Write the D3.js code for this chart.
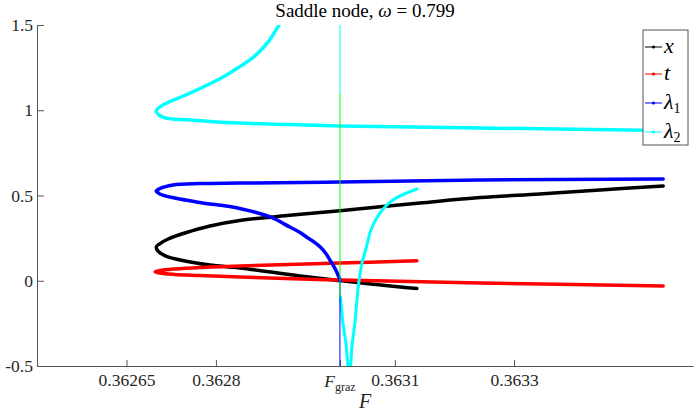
<!DOCTYPE html>
<html>
<head>
<meta charset="utf-8">
<script src="https://cdn.jsdelivr.net/npm/d3@7"></script>
<style>
  html, body { margin: 0; padding: 0; background: #fff; }
  svg { display: block; }
  svg text { font-family: "Liberation Serif", "DejaVu Serif", serif; }
</style>
</head>
<body>
<div id="chart"></div>
<script>
// grazing value of F, used for the tick and the vertical markers
const F_GRAZ = 0.363008;

// [F, value] pairs, ordered along each branch
const xSeries = [
  [0.36355, 0.556], [0.363444, 0.532], [0.363343, 0.509], [0.363243, 0.488],
  [0.363142, 0.456], [0.363008, 0.411], [0.362924, 0.384], [0.362840, 0.353],
  [0.362790, 0.321], [0.362748, 0.280], [0.362720, 0.245], [0.362705, 0.215],
  [0.362700, 0.198], [0.362703, 0.174], [0.362716, 0.145], [0.362748, 0.116],
  [0.362790, 0.092], [0.362840, 0.075], [0.362941, 0.028], [0.363008, 0.001],
  [0.363109, -0.037], [0.363137, -0.045]
];

const tSeries = [
  [0.363137, 0.117], [0.363008, 0.104], [0.362840, 0.087], [0.362773, 0.078],
  [0.362731, 0.069], [0.362706, 0.060], [0.362698, 0.053], [0.362706, 0.045],
  [0.362731, 0.037], [0.362773, 0.031], [0.362840, 0.022], [0.363008, 0.004],
  [0.363243, -0.013], [0.36355, -0.031]
];

const lambda1Series = [
  [0.36355, 0.597], [0.363243, 0.591], [0.363008, 0.579], [0.362840, 0.573],
  [0.362773, 0.570], [0.362728, 0.562], [0.362706, 0.541], [0.362700, 0.526],
  [0.362706, 0.509], [0.362731, 0.485], [0.362773, 0.459], [0.362840, 0.424],
  [0.362891, 0.374], [0.362924, 0.315], [0.362941, 0.283], [0.362953, 0.254],
  [0.362966, 0.224], [0.362975, 0.198], [0.362985, 0.157], [0.362991, 0.122],
  [0.362996, 0.095], [0.363001, 0.063], [0.3630047, 0.034], [0.3630069, 0.016],
  [0.363008, -0.001]
];

const lambda2Series = [
  [0.362910, 1.53], [0.362906, 1.5], [0.362902, 1.477], [0.362889, 1.407],
  [0.362874, 1.348], [0.362857, 1.295], [0.362840, 1.256], [0.362812, 1.195],
  [0.362757, 1.101], [0.362711, 1.031], [0.362700, 0.996], [0.362711, 0.960],
  [0.362757, 0.943], [0.362840, 0.925], [0.362924, 0.916], [0.363008, 0.908],
  [0.363243, 0.896], [0.36355, 0.881]
];

// second lambda2 branch (the dip past F_graz)
const lambda2Dip = [
  [0.363009, -0.094], [0.363013, -0.248], [0.363018, -0.365], [0.363021, -0.483],
  [0.363024, -0.56], [0.363026, -0.494], [0.363028, -0.387], [0.363033, -0.248],
  [0.363039, -0.025], [0.363045, 0.104], [0.363052, 0.192], [0.363060, 0.298],
  [0.363075, 0.397], [0.363097, 0.474], [0.363137, 0.538]
];

// vertical pieces at F_graz: [from, to]
const lambda2Vertical = [1.5, 1.095];
const grazMarker = [1.095, -0.1];
const lambda1Vertical = [0, -0.5];

const xTickValues = [0.36265, 0.3628, F_GRAZ, 0.3631, 0.3633];
const xTickLabels = ['0.36265', '0.3628', '', '0.3631', '0.3633'];
const yTickValues = [-0.5, 0, 0.5, 1, 1.5];
const yTickLabels = ['-0.5', '0', '0.5', '1', '1.5'];

const seriesNames = ['x', 't', 'λ1', 'λ2'];
const seriesColors = ['#000000', '#ff0000', '#0000ff', '#00ffff'];

const width = 695, height = 412;
const plot = { left: 37, right: 693, top: 25, bottom: 366 };
const serif = '"Liberation Serif", "DejaVu Serif", serif';

const svg = d3.select('#chart').append('svg')
  .attr('width', width)
  .attr('height', height)
  .style('font-family', serif);

const x = d3.scaleLinear().domain([0.3625, 0.3636]).range([plot.left, plot.right]);
const y = d3.scaleLinear().domain([-0.5, 1.5]).range([plot.bottom, plot.top]);

svg.append('defs').append('clipPath')
  .attr('id', 'plot-clip')
  .append('rect')
  .attr('x', plot.left)
  .attr('y', plot.top)
  .attr('width', plot.right - plot.left)
  .attr('height', plot.bottom - plot.top);

// Axes (MATLAB style: ticks pointing inward, no box)
const axisColor = '#555';
const labelColor = '#262626';

const yAxis = svg.append('g')
  .attr('transform', `translate(${plot.left},0)`)
  .call(d3.axisLeft(y)
    .tickValues(yTickValues)
    .tickFormat((d, i) => yTickLabels[i])
    .tickSizeInner(-7)
    .tickSizeOuter(0)
    .tickPadding(4));

const xAxis = svg.append('g')
  .attr('transform', `translate(0,${plot.bottom})`)
  .call(d3.axisBottom(x)
    .tickValues(xTickValues)
    .tickFormat((d, i) => xTickLabels[i])
    .tickSizeInner(-6)
    .tickSizeOuter(0)
    .tickPadding(8));

[xAxis, yAxis].forEach(ax => {
  ax.attr('font-family', null).attr('font-size', null);
  ax.select('.domain').attr('stroke', axisColor);
  ax.selectAll('.tick line').attr('stroke', axisColor);
  ax.selectAll('.tick text')
    .attr('fill', labelColor)
    .style('font-family', serif)
    .style('font-size', '17.5px');
});

// F_graz tick label
const grazLabel = svg.append('text')
  .attr('x', x(F_GRAZ))
  .attr('y', plot.bottom + 21)
  .attr('text-anchor', 'middle')
  .attr('fill', labelColor)
  .style('font-size', '17.5px');
grazLabel.append('tspan').style('font-style', 'italic').text('F');
grazLabel.append('tspan').attr('dy', 4).style('font-size', '12px').text('graz');

// axis label
svg.append('text')
  .attr('x', (plot.left + plot.right) / 2)
  .attr('y', 408)
  .attr('text-anchor', 'middle')
  .attr('fill', labelColor)
  .style('font-style', 'italic')
  .style('font-size', '20px')
  .text('F');

// title
const title = svg.append('text')
  .attr('x', (plot.left + plot.right) / 2)
  .attr('y', 17)
  .attr('text-anchor', 'middle')
  .attr('fill', '#000')
  .style('font-size', '19px');
title.append('tspan').text('Saddle node, ');
title.append('tspan').style('font-style', 'italic').text('ω');
title.append('tspan').text(' = 0.799');

// Curves
const curves = svg.append('g').attr('clip-path', 'url(#plot-clip)');

const line = d3.line()
  .x(d => x(d[0]))
  .y(d => y(d[1]))
  .curve(d3.curveCatmullRom.alpha(0.5));

const branches = [
  { data: xSeries, color: seriesColors[0], w: 3.5 },
  { data: tSeries, color: seriesColors[1], w: 3.5 },
  { data: lambda1Series, color: seriesColors[2], w: 3.5 },
  { data: lambda2Series, color: seriesColors[3], w: 3.5 },
  { data: lambda2Dip, color: seriesColors[3], w: 3 }
];

curves.selectAll('.branch')
  .data(branches)
  .join('path')
  .attr('class', 'branch')
  .attr('d', d => line(d.data))
  .attr('fill', 'none')
  .attr('stroke', d => d.color)
  .attr('stroke-width', d => d.w)
  .attr('stroke-linejoin', 'round')
  .attr('stroke-linecap', 'round');

// thin vertical pieces at F_graz
const verticals = [
  { range: lambda1Vertical, color: '#0000ff' },
  { range: lambda2Vertical, color: '#00ffff' },
  { range: grazMarker, color: '#00ff00' }
];

curves.selectAll('.vline')
  .data(verticals)
  .join('line')
  .attr('class', 'vline')
  .attr('x1', x(F_GRAZ))
  .attr('x2', x(F_GRAZ))
  .attr('y1', d => y(d.range[0]))
  .attr('y2', d => y(d.range[1]))
  .attr('stroke', d => d.color)
  .attr('stroke-width', 1);

// Legend
const legend = svg.append('g').attr('transform', 'translate(643,30)');

legend.append('rect')
  .attr('width', 45)
  .attr('height', 115)
  .attr('fill', '#fff')
  .attr('stroke', axisColor)
  .attr('stroke-width', 1);

const legendItems = legend.selectAll('.legend-item')
  .data(seriesNames)
  .join('g')
  .attr('class', 'legend-item')
  .attr('transform', (d, i) => `translate(0, ${[17, 44, 73, 102][i]})`);

legendItems.append('line')
  .attr('x1', 2)
  .attr('x2', 19)
  .attr('stroke', (d, i) => seriesColors[i])
  .attr('stroke-width', 1);

legendItems.append('circle')
  .attr('cx', 10.5)
  .attr('r', 1.6)
  .attr('fill', (d, i) => seriesColors[i]);

const legendText = legendItems.append('text')
  .attr('x', 21)
  .attr('y', 6)
  .attr('fill', '#000')
  .style('font-size', '22px')
  .style('font-style', 'italic');

legendText.append('tspan').text(d => d.charAt(0));
legendText.filter(d => d.length > 1)
  .append('tspan')
  .attr('dy', 4)
  .style('font-style', 'normal')
  .style('font-size', '14px')
  .text(d => d.slice(1));
</script>
</body>
</html>
